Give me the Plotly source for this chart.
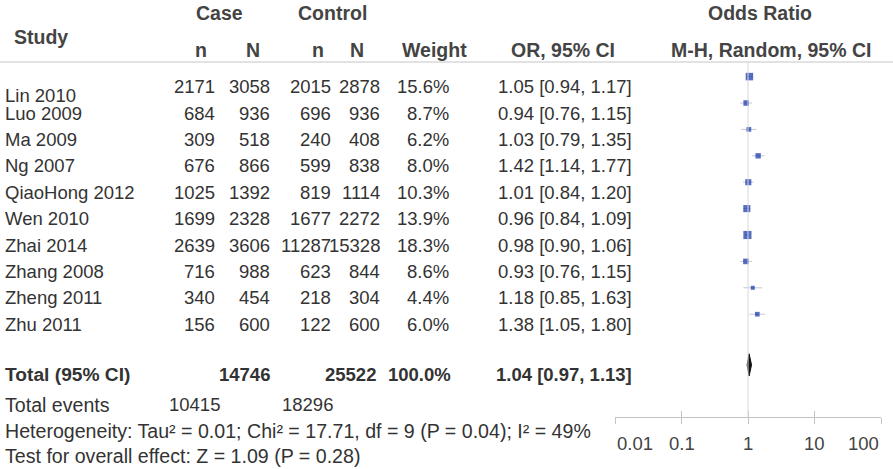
import plotly.graph_objects as go
import math

# ---------------- data ----------------
studies = ["Lin 2010", "Luo 2009", "Ma 2009", "Ng 2007", "QiaoHong 2012",
           "Wen 2010", "Zhai 2014", "Zhang 2008", "Zheng 2011", "Zhu 2011"]
case_n = [2171, 684, 309, 676, 1025, 1699, 2639, 716, 340, 156]
case_N = [3058, 936, 518, 866, 1392, 2328, 3606, 988, 454, 600]
ctrl_n = [2015, 696, 240, 599, 819, 1677, 11287, 623, 218, 122]
ctrl_N = [2878, 936, 408, 838, 1114, 2272, 15328, 844, 304, 600]
weights = [15.6, 8.7, 6.2, 8.0, 10.3, 13.9, 18.3, 8.6, 4.4, 6.0]
or_est = [1.05, 0.94, 1.03, 1.42, 1.01, 0.96, 0.98, 0.93, 1.18, 1.38]
ci_low = [0.94, 0.76, 0.79, 1.14, 0.84, 0.84, 0.90, 0.76, 0.85, 1.05]
ci_high = [1.17, 1.15, 1.35, 1.77, 1.20, 1.09, 1.06, 1.15, 1.63, 1.80]

total_case_N = 14746
total_ctrl_N = 25522
total_weight = "100.0%"
total_or = 1.04
total_low = 0.97
total_high = 1.13
total_case_events = 10415
total_ctrl_events = 18296
heterogeneity_text = "Heterogeneity: Tau² = 0.01; Chi² = 17.71, df = 9 (P = 0.04); I² = 49%"
overall_text = "Test for overall effect: Z = 1.09 (P = 0.28)"

tick_vals = [0.01, 0.1, 1, 10, 100]
tick_text = ["0.01", "0.1", "1", "10", "100"]

# ---------------- layout constants ----------------
W, H = 893, 469
ROW0, ROWH = 86.6, 26.4          # table rows: pixel of row 0, row height
FOREST_SHIFT = 10.0              # markers drawn slightly above text rows
TOTAL_ROW = 10.92
EVENTS_ROW, HET_ROW, TEST_ROW = 12.06, 13.06, 13.99

FONT = "Liberation Sans, Arial, sans-serif"
BODY = 18.5
FOOT = 19.6
HEAD = 19.5
TXT = "#333333"
HEADC = "#444444"
BLUE = "#0e31a6"

col_case_n, col_case_N = 217, 272
col_ctrl_n, col_ctrl_N = 333, 382
col_weight, col_or = 451, 634
study_x = 3

fig = go.Figure()

# forest: CI lines
xs, ys = [], []
for i in range(len(studies)):
    xs += [ci_low[i], ci_high[i], None]
    ys += [i, i, None]
fig.add_trace(go.Scatter(x=xs, y=ys, mode="lines", xaxis="x2", yaxis="y2",
                         line=dict(color="rgba(150,155,175,0.55)", width=1),
                         hoverinfo="skip", showlegend=False))
# forest: squares
fig.add_trace(go.Scatter(x=or_est, y=list(range(len(studies))), mode="markers",
                         xaxis="x2", yaxis="y2",
                         marker=dict(symbol="square", color=BLUE,
                                     size=[1.9 * math.sqrt(w) for w in weights],
                                     line=dict(width=0)),
                         showlegend=False))
# forest: diamond for total
half_h = 0.42
fig.add_trace(go.Scatter(x=[total_low, total_or, total_high, total_or, total_low],
                         y=[TOTAL_ROW, TOTAL_ROW - half_h, TOTAL_ROW, TOTAL_ROW + half_h, TOTAL_ROW],
                         mode="lines", fill="toself", fillcolor="#111111",
                         line=dict(color="#111111", width=1),
                         xaxis="x2", yaxis="y2", showlegend=False))
# invisible trace for the inside-tick overlay axis
fig.add_trace(go.Scatter(x=[total_or], y=[TOTAL_ROW], mode="markers", xaxis="x3", yaxis="y2",
                         marker=dict(opacity=0), showlegend=False, hoverinfo="skip"))

ann = []

def txt(x, y, s, anchor="right", bold=False, size=BODY, color=TXT, yref="y", yshift=0):
    ann.append(dict(x=x, y=y, xref="x", yref=yref, text=s, showarrow=False,
                    xanchor=anchor, yanchor="middle", yshift=yshift,
                    font=dict(family=FONT, size=size, color=color,
                              weight="bold" if bold else "normal")))

# table rows
for i, s in enumerate(studies):
    txt(study_x, i, s, anchor="left", yshift=-9 if i == 0 else 0)
    txt(col_case_n, i, str(case_n[i]))
    txt(col_case_N, i, str(case_N[i]))
    txt(col_ctrl_n, i, str(ctrl_n[i]))
    txt(col_ctrl_N, i, str(ctrl_N[i]))
    txt(col_weight, i, f"{weights[i]:.1f}%")
    txt(col_or, i, f"{or_est[i]:.2f} [{ci_low[i]:.2f}, {ci_high[i]:.2f}]")

# total row
txt(study_x, TOTAL_ROW, "Total (95% CI)", anchor="left", bold=True, size=19.2)
txt(col_case_N, TOTAL_ROW, str(total_case_N), bold=True)
txt(col_ctrl_N - 4, TOTAL_ROW, str(total_ctrl_N), bold=True)
txt(col_weight + 2, TOTAL_ROW, total_weight, bold=True)
txt(col_or, TOTAL_ROW, f"{total_or:.2f} [{total_low:.2f}, {total_high:.2f}]", bold=True)
# events / stats
txt(study_x, EVENTS_ROW, "Total events", anchor="left", size=FOOT)
txt(col_case_n + 5, EVENTS_ROW, str(total_case_events))
txt(col_ctrl_n + 2, EVENTS_ROW, str(total_ctrl_events))
txt(study_x, HET_ROW, heterogeneity_text, anchor="left", size=FOOT)
txt(study_x, TEST_ROW, overall_text, anchor="left", size=FOOT)

# headers (paper y)
def head(x, ypix, s, anchor="center"):
    ann.append(dict(x=x, y=1 - ypix / H, xref="x", yref="paper", text=s, showarrow=False,
                    xanchor=anchor, yanchor="middle",
                    font=dict(family=FONT, size=HEAD, color=HEADC, weight="bold")))

head(219, 13, "Case")
head(332, 13, "Control")
head(760, 13, "Odds Ratio")
head(12, 37, "Study", anchor="left")
head(201, 50, "n")
head(253, 50, "N")
head(318, 50, "n")
head(357, 50, "N")
head(434, 50, "Weight")
head(563, 50, "OR, 95% CI")
head(771, 50, "M-H, Random, 95% CI")

axis_y = 417
label_y = 443
line_y = 62

# axis tick labels: edge labels aligned inward
for k, (v, t) in enumerate(zip(tick_vals, tick_text)):
    anchor = "left" if k == 0 else ("right" if k == len(tick_vals) - 1 else "center")
    ann.append(dict(x=math.log10(v), y=1 - label_y / H, xref="x2", yref="paper", text=t,
                    showarrow=False, xanchor=anchor, yanchor="middle",
                    font=dict(family=FONT, size=BODY, color=HEADC)))

shapes = [
    dict(type="line", xref="paper", yref="paper", x0=0, x1=1,
         y0=1 - line_y / H, y1=1 - line_y / H, line=dict(color="#e2e2e2", width=2)),
    dict(type="line", xref="x2", yref="paper", x0=1, x1=1,
         y0=1 - line_y / H, y1=1 - axis_y / H, line=dict(color="#d8d8d8", width=1)),
]

dom = [615 / W, 881 / W]
fig.update_layout(
    width=W, height=H, margin=dict(l=0, r=0, t=0, b=0, pad=0, autoexpand=False),
    paper_bgcolor="white", plot_bgcolor="rgba(0,0,0,0)",
    showlegend=False,
    xaxis=dict(range=[0, W], domain=[0, 1], visible=False, fixedrange=True, automargin=False),
    yaxis=dict(range=[(H - ROW0) / ROWH, -ROW0 / ROWH], domain=[0, 1], visible=False,
               automargin=False),
    xaxis2=dict(type="log", range=[-2, 2], domain=dom, anchor="free",
                position=1 - axis_y / H, showline=True, linecolor="#c4c4c4", linewidth=1,
                ticks="outside", ticklen=6, tickcolor="#c4c4c4", tickwidth=1,
                tickvals=tick_vals, showticklabels=False, showgrid=False, zeroline=False,
                automargin=False),
    xaxis3=dict(type="log", range=[-2, 2], domain=dom, anchor="free", overlaying="x2",
                position=1 - axis_y / H, showline=False, ticks="inside", ticklen=6,
                tickcolor="#c4c4c4", tickwidth=1, tickvals=tick_vals,
                showticklabels=False, showgrid=False, zeroline=False, automargin=False),
    yaxis2=dict(range=[(H - ROW0 + FOREST_SHIFT) / ROWH, -(ROW0 - FOREST_SHIFT) / ROWH],
                domain=[0, 1], anchor="x2", overlaying="y", visible=False, automargin=False),
    annotations=ann,
    shapes=shapes,
)

fig.write_html("out.html")
